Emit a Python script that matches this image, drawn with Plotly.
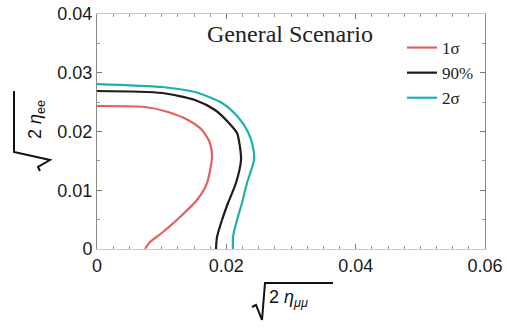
import plotly.graph_objects as go

# ---- data ----
x_1sigma = [0.0, 0.00742, 0.01098, 0.01407, 0.01624, 0.01747, 0.01778, 0.01701,
            0.01546, 0.01284, 0.01021, 0.00820, 0.00742]
y_1sigma = [0.02434, 0.02417, 0.02332, 0.02196, 0.02026, 0.01804, 0.01566, 0.01123,
            0.00834, 0.00545, 0.00289, 0.00119, 0.0]

x_90 = [0.0, 0.01005, 0.01515, 0.01825, 0.02026, 0.02165, 0.02211, 0.02227,
        0.02149, 0.02026, 0.01933, 0.01856, 0.01840]
y_90 = [0.02689, 0.02655, 0.02536, 0.02366, 0.02162, 0.01974, 0.01736, 0.01515,
        0.01123, 0.00783, 0.00494, 0.00204, 0.0]

x_2sigma = [0.0, 0.01005, 0.01515, 0.01933, 0.02180, 0.02335, 0.02412, 0.02428,
            0.02320, 0.02242, 0.02165, 0.02103, 0.02103]
y_2sigma = [0.02808, 0.02757, 0.02672, 0.02485, 0.02247, 0.01991, 0.01736, 0.01515,
            0.01123, 0.00783, 0.00494, 0.00204, 0.0]

series_names = ["1σ", "90%", "2σ"]
series_colors = ["#e2605f", "#231a18", "#1fb0ab"]
x_ticks = [0, 0.02, 0.04, 0.06]
x_tick_labels = ["0", "0.02", "0.04", "0.06"]
y_ticks = [0, 0.01, 0.02, 0.03, 0.04]
y_tick_labels = ["0", "0.01", "0.02", "0.03", "0.04"]

W, H = 507, 328
L, R, T, B = 97, 22, 14, 79
PW, PH = W - L - R, H - T - B


def px(xp):
    return (xp - L) / PW


def py(yp):
    return (H - B - yp) / PH


fig = go.Figure()
for xs, ys, name, col in zip([x_1sigma, x_90, x_2sigma], [y_1sigma, y_90, y_2sigma],
                             series_names, series_colors):
    fig.add_trace(go.Scatter(x=xs, y=ys, mode="lines", name=name,
                             line=dict(color=col, width=2.2, shape="spline", smoothing=0.7)))

tickfont = dict(family="Liberation Sans, Arial, sans-serif", size=18, color="#1a1a1a")

fig.update_layout(
    width=W, height=H,
    margin=dict(l=L, r=R, t=T, b=B, pad=0, autoexpand=False),
    paper_bgcolor="white", plot_bgcolor="white",
    showlegend=True,
    legend=dict(x=px(402), y=py(30), xanchor="left", yanchor="top",
                font=dict(family="Liberation Serif, Times New Roman, serif", size=17, color="#222"),
                bgcolor="rgba(0,0,0,0)", itemwidth=30, tracegroupgap=0),
    xaxis=dict(range=[0, 0.06], tickvals=x_ticks, ticktext=x_tick_labels, automargin=False,
               showgrid=False, zeroline=False, showline=True, linecolor="#c8c8c8", linewidth=1,
               mirror="allticks", ticks="inside", ticklen=5, tickcolor="#777",
               minor=dict(dtick=0.0025, ticks="inside", ticklen=3, tickcolor="#999", showgrid=False),
               tickfont=tickfont),
    yaxis=dict(range=[0, 0.04], tickvals=y_ticks, ticktext=y_tick_labels, automargin=False,
               showgrid=False, zeroline=False, showline=True, linecolor="#8a8a8a", linewidth=1,
               mirror="allticks", ticks="inside", ticklen=5, tickcolor="#777",
               minor=dict(dtick=0.005, ticks="inside", ticklen=3, tickcolor="#999", showgrid=False),
               tickfont=tickfont),
)

# title inside plot
fig.add_annotation(text="General Scenario", xref="paper", yref="paper",
                   x=px(290), y=py(34), xanchor="center", yanchor="middle", showarrow=False,
                   font=dict(family="Liberation Serif, Times New Roman, serif", size=24, color="#222"))

# axis titles (text) + radical signs
afont = dict(family="Liberation Sans, Arial, sans-serif", size=18, color="#111")
fig.add_annotation(text="2 <i>η</i><sub><i>μμ</i></sub>", xref="paper", yref="paper",
                   x=px(267), y=py(298), xanchor="left", yanchor="middle", showarrow=False,
                   font=afont)
fig.add_annotation(text="2 <i>η</i><sub>ee</sub>", xref="paper", yref="paper",
                   x=px(36), y=py(120), xanchor="center", yanchor="middle", showarrow=False,
                   textangle=-90, font=afont)


def path(points):
    return "M " + " L ".join(f"{px(a):.5f},{py(b):.5f}" for a, b in points)


fig.add_shape(type="path", xref="paper", yref="paper",
              path=path([(252, 307), (256, 305), (262, 320), (265, 283), (333, 283)]),
              line=dict(color="#111", width=2))
fig.add_shape(type="path", xref="paper", yref="paper",
              path=path([(14, 91), (14, 152), (50, 160), (38, 167), (40, 171)]),
              line=dict(color="#111", width=2))

fig.write_html("out.html")
